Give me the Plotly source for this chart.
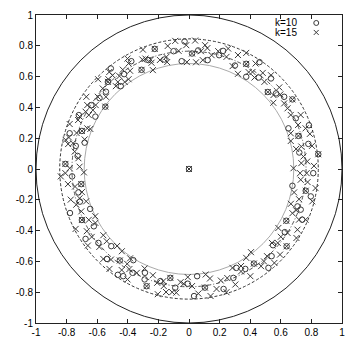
import plotly.graph_objects as go

# ---------------- data ----------------
tick_vals = [-1, -0.8, -0.6, -0.4, -0.2, 0, 0.2, 0.4, 0.6, 0.8, 1]
tick_text = ["-1", "-0.8", "-0.6", "-0.4", "-0.2", "0", "0.2", "0.4", "0.6", "0.8", "1"]

ring_radii = [1.0, 0.845, 0.765, 0.685]
ring_styles = ["solid", "3px,2px", "4px,2px,1px,2px", "solid"]
ring_colors = ["#222222", "#333333", "#555555", "#aaaaaa"]

shared_x = [-0.224, 0.020, 0.374, -0.310, -0.530, 0.515, 0.676, -0.547, -0.700, 0.715, 0.845, -0.808, 0.0,
            -0.704, 0.763, -0.700, 0.636, 0.638, -0.452, 0.424, -0.122, 0.104, -0.277]
shared_y = [0.780, 0.750, 0.683, 0.644, 0.566, 0.500, 0.452, 0.405, 0.247, 0.215, 0.096, 0.033, 0.0,
            -0.098, -0.141, -0.331, -0.336, -0.502, -0.594, -0.614, -0.707, -0.770, -0.761]

k10_x = [-0.029, -0.101, -0.048, 0.122, 0.197, 0.223, 0.300, 0.374, 0.461, 0.456, 0.536, 0.569, 0.622,
         0.698, 0.784, 0.650, 0.780, 0.721, 0.812, 0.676, 0.796, 0.709, 0.730, 0.740, 0.626, 0.549, 0.540,
         0.519, 0.368, 0.310, 0.290, 0.226, 0.053, 0.033, -0.008, -0.090, -0.187, -0.288, -0.290, -0.369,
         -0.430, -0.465, -0.364, -0.536, -0.508, -0.592, -0.676, -0.622, -0.646, -0.778, -0.713, -0.723,
         -0.764, -0.728, -0.740, -0.682, -0.780, -0.720, -0.612, -0.638, -0.585, -0.543, -0.446, -0.424,
         -0.511, -0.377, -0.266, -0.161, 0.060]
k10_y = [0.828, 0.765, 0.700, 0.707, 0.739, 0.767, 0.672, 0.599, 0.694, 0.594, 0.588, 0.491, 0.469,
         0.329, 0.284, 0.264, 0.163, 0.107, -0.027, -0.109, -0.178, -0.243, -0.264, -0.329, -0.410, -0.495,
         -0.566, -0.642, -0.649, -0.642, -0.707, -0.779, -0.696, -0.825, -0.745, -0.771, -0.728, -0.674,
         -0.717, -0.674, -0.696, -0.687, -0.592, -0.584, -0.501, -0.480, -0.454, -0.372, -0.259, -0.286,
         -0.212, -0.152, -0.048, 0.085, 0.150, 0.171, 0.232, 0.350, 0.340, 0.415, 0.460, 0.502, 0.538,
         0.616, 0.653, 0.700, 0.707, 0.711, 0.770]

k15_x = [-0.090, -0.018, 0.040, -0.139, -0.068, -0.148, -0.143, -0.014, 0.046, 0.105, 0.078, 0.120, 0.148,
         0.090, 0.191, 0.256, 0.245, 0.320, 0.374, 0.285, 0.320, 0.390, 0.435, 0.415, 0.428, 0.482, 0.493,
         0.536, 0.590, 0.552, 0.597, 0.551, 0.622, 0.644, 0.665, 0.730, 0.713, 0.762, 0.790, 0.665, 0.665,
         0.734, 0.804, 0.700, 0.748, 0.773, 0.734, 0.817, 0.769, 0.726, 0.683, 0.730, 0.775, 0.827, 0.687,
         0.806, 0.719, 0.666, 0.700, 0.676, 0.719, 0.762, 0.584, 0.709, 0.644, 0.702, 0.600, 0.542, 0.580,
         0.510, 0.595, 0.558, 0.490, 0.471, 0.374, 0.405, 0.401, 0.340, 0.284, 0.340, 0.303, 0.250, 0.208,
         0.180, 0.245, 0.137, 0.109, 0.141, 0.061, -0.008, -0.035, 0.020, -0.083, -0.110, -0.150, -0.055,
         -0.165, -0.208, -0.168, -0.204, -0.236, -0.290, -0.341, -0.390, -0.402, -0.440, -0.520, -0.404,
         -0.385, -0.439, -0.510, -0.560, -0.470, -0.538, -0.586, -0.560, -0.636, -0.661, -0.668, -0.741,
         -0.612, -0.655, -0.613, -0.704, -0.737, -0.773, -0.672, -0.715, -0.700, -0.745, -0.791, -0.808,
         -0.838, -0.687, -0.715, -0.780, -0.723, -0.747, -0.758, -0.790, -0.682, -0.806, -0.785, -0.735,
         -0.665, -0.715, -0.780, -0.645, -0.725, -0.676, -0.655, -0.628, -0.665, -0.610, -0.671, -0.596,
         -0.564, -0.543, -0.594, -0.527, -0.478, -0.465, -0.500, -0.455, -0.395, -0.420, -0.521, -0.433,
         -0.385, -0.402, -0.395, -0.305, -0.285, -0.301, -0.236, -0.245, -0.190, -0.250]
k15_y = [0.832, 0.804, 0.834, 0.799, 0.767, 0.728, 0.694, 0.694, 0.693, 0.804, 0.765, 0.785, 0.739,
         0.707, 0.765, 0.782, 0.728, 0.740, 0.754, 0.668, 0.618, 0.629, 0.685, 0.630, 0.594, 0.624, 0.566,
         0.609, 0.530, 0.480, 0.484, 0.430, 0.426, 0.394, 0.351, 0.351, 0.286, 0.264, 0.228, 0.232, 0.182,
         0.146, 0.150, 0.130, 0.081, 0.049, 0.038, 0.020, -0.027, -0.027, 0.005, -0.070, -0.085, -0.124,
         -0.152, -0.210, -0.196, -0.226, -0.268, -0.287, -0.329, -0.329, -0.383, -0.394, -0.415, -0.448,
         -0.440, -0.480, -0.480, -0.566, -0.556, -0.610, -0.600, -0.631, -0.577, -0.540, -0.696, -0.665,
         -0.642, -0.630, -0.750, -0.708, -0.724, -0.779, -0.800, -0.711, -0.685, -0.825, -0.809, -0.702,
         -0.745, -0.760, -0.803, -0.800, -0.799, -0.735, -0.760, -0.739, -0.728, -0.813, -0.690, -0.646,
         -0.674, -0.650, -0.717, -0.656, -0.649, -0.616, -0.580, -0.534, -0.588, -0.584, -0.500, -0.469,
         -0.506, -0.430, -0.441, -0.497, -0.404, -0.389, -0.350, -0.330, -0.307, -0.275, -0.232, -0.199,
         -0.210, -0.190, -0.150, -0.114, -0.098, -0.027, -0.048, -0.022, 0.015, 0.005, 0.070, 0.113, 0.167,
         0.162, 0.192, 0.189, 0.205, 0.234, 0.264, 0.340, 0.292, 0.260, 0.318, 0.372, 0.350, 0.382, 0.415,
         0.415, 0.469, 0.469, 0.523, 0.469, 0.583, 0.583, 0.538, 0.565, 0.608, 0.603, 0.583, 0.565, 0.630,
         0.645, 0.638, 0.717, 0.685, 0.711, 0.717, 0.775, 0.642, 0.690, 0.708, 0.710]

legend_labels = ["k=10", "k=15"]

# ---------------- figure ----------------
ink = "#3a3a3a"
font = dict(family="Liberation Sans, Arial, sans-serif", size=10, color="#000000")

fig = go.Figure()

shapes = []
for r, d, c in zip(ring_radii, ring_styles, ring_colors):
    shapes.append(dict(type="circle", xref="x", yref="y", x0=-r, y0=-r, x1=r, y1=r,
                       line=dict(color=c, width=1, dash=d), layer="below"))

fig.add_trace(go.Scatter(x=shared_x + k10_x, y=shared_y + k10_y, mode="markers", name=legend_labels[0],
                         marker=dict(symbol="circle-open", size=5.5, color=ink, line=dict(width=1, color=ink)),
                         showlegend=False))
fig.add_trace(go.Scatter(x=shared_x + k15_x, y=shared_y + k15_y, mode="markers", name=legend_labels[1],
                         marker=dict(symbol="x-thin-open", size=6, color=ink, line=dict(width=1, color=ink)),
                         showlegend=False))

# legend (gnuplot style: text, then symbol on the right)
pl, pr, pt, pb = 36, 345, 15, 324
def px(x):
    return (x - pl) / (pr - pl)
def py(y):
    return (pb - y) / (pb - pt)

annotations = []
for i, lab in enumerate(legend_labels):
    yy = 22.5 + i * 10
    annotations.append(dict(xref="paper", yref="paper", x=px(302), y=py(yy), text=lab, showarrow=False,
                            xanchor="right", yanchor="middle", font=font))
# legend key for k=10 (open circle)
shapes.append(dict(type="circle", xref="paper", yref="paper", x0=px(316.5), x1=px(321.5), y0=py(20.5), y1=py(25.5),
                   line=dict(color=ink, width=1)))
# legend key for k=15 (cross)
shapes.append(dict(type="line", xref="paper", yref="paper", x0=px(316.5), x1=px(321.5), y0=py(30), y1=py(35),
                   line=dict(color=ink, width=1)))
shapes.append(dict(type="line", xref="paper", yref="paper", x0=px(316.5), x1=px(321.5), y0=py(35), y1=py(30),
                   line=dict(color=ink, width=1)))

axis_common = dict(range=[-1, 1], tickvals=tick_vals, ticktext=tick_text, ticks="inside", ticklen=4,
                   tickcolor="#222222", showgrid=False, zeroline=False, showline=True, linecolor="#222222",
                   linewidth=1, mirror="ticks", tickfont=font)

fig.update_layout(
    width=350, height=343,
    margin=dict(l=36, r=5, t=15, b=19),
    paper_bgcolor="white", plot_bgcolor="white",
    xaxis=dict(**axis_common),
    yaxis=dict(**axis_common),
    shapes=shapes,
    annotations=annotations,
    showlegend=False,
)

fig.write_html("out.html")
